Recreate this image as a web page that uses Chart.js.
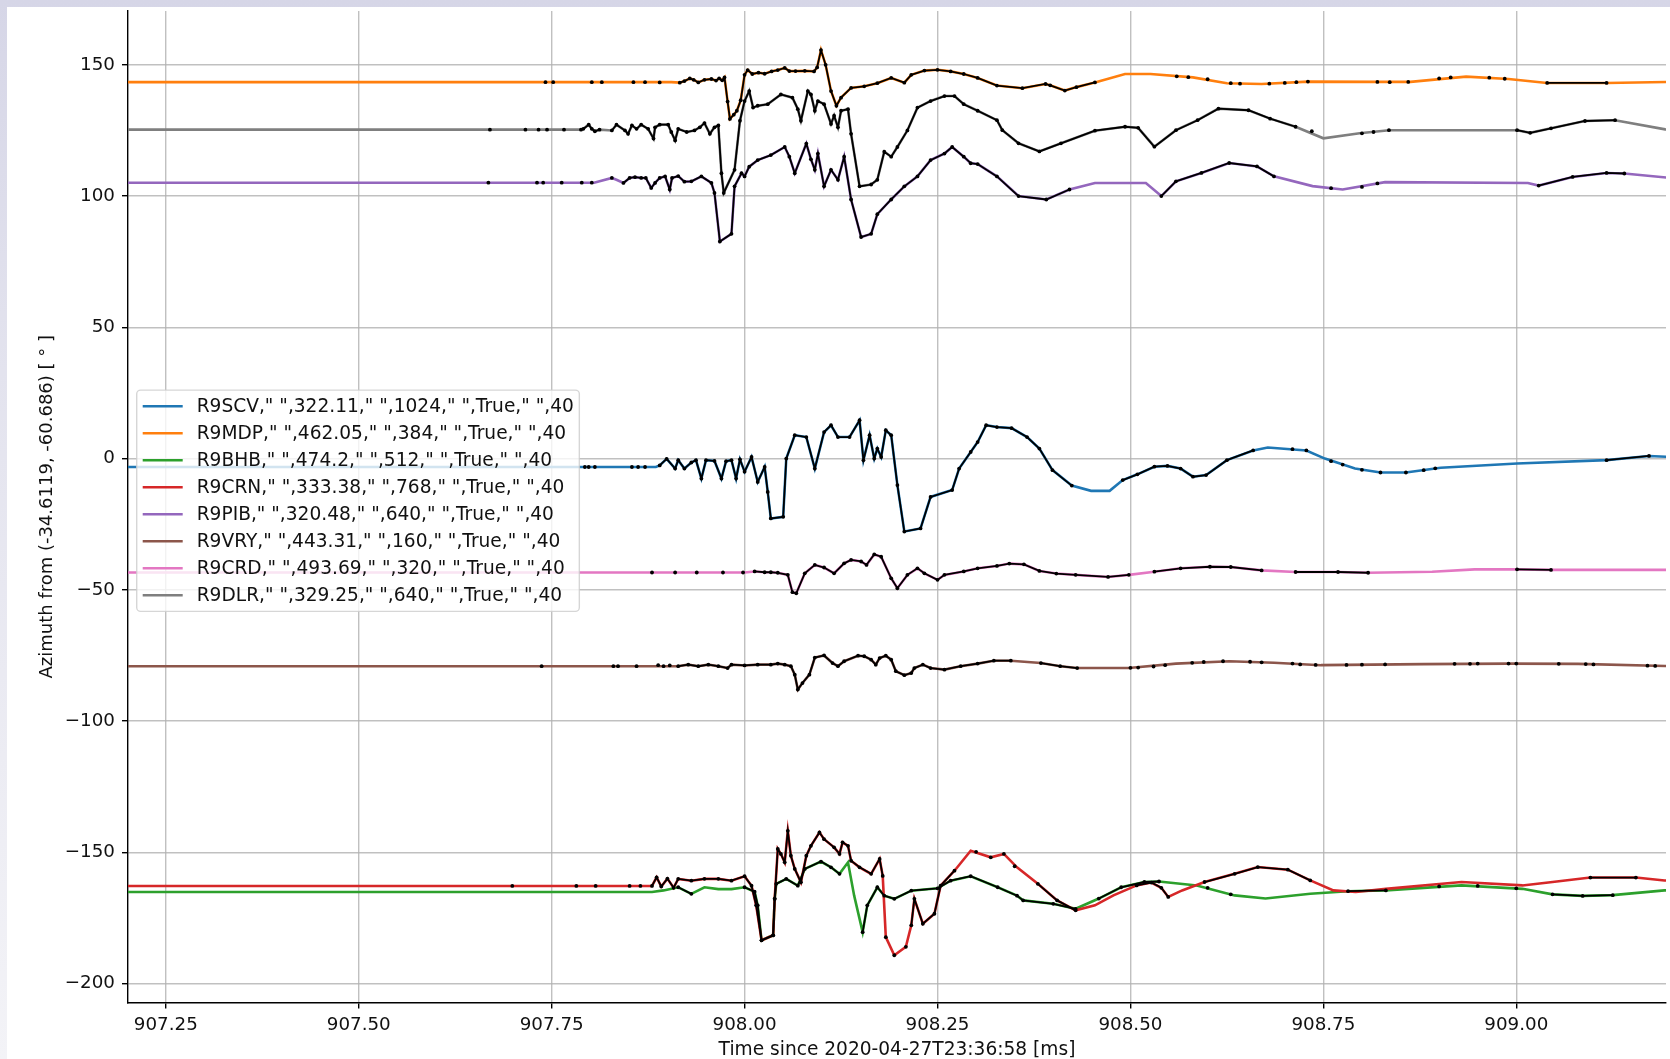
<!DOCTYPE html>
<html>
<head>
<meta charset="utf-8">
<script src="https://cdn.jsdelivr.net/npm/chart.js@4.4.0/dist/chart.umd.min.js"></script>
<style>
html, body { margin: 0; padding: 0; }
body { width: 1670px; height: 1059px; overflow: hidden; position: relative;
       background: linear-gradient(180deg, #d6d6e7 0%, #e3e3ee 35%, #f3f3f7 100%); }
#wrap { position: absolute; left: 7px; top: 7px; width: 1663px; height: 1052px; background: #fff; }
canvas { display: block; }
</style>
</head>
<body>
<div id="wrap"><canvas id="azimuthGraph" width="1663" height="1052"></canvas></div>
<script>
const xTicks = [907.25, 907.5, 907.75, 908.0, 908.25, 908.5, 908.75, 909.0];
const yTicks = [-200, -150, -100, -50, 0, 50, 100, 150];

const stationLabels = [
    'R9SCV," ",322.11," ",1024," ",True," ",40',
    'R9MDP," ",462.05," ",384," ",True," ",40',
    'R9BHB," ",474.2," ",512," ",True," ",40',
    'R9CRN," ",333.38," ",768," ",True," ",40',
    'R9PIB," ",320.48," ",640," ",True," ",40',
    'R9VRY," ",443.31," ",160," ",True," ",40',
    'R9CRD," ",493.69," ",320," ",True," ",40',
    'R9DLR," ",329.25," ",640," ",True," ",40'
];
const stationColors = ['#1f77b4', '#ff7f0e', '#2ca02c', '#d62728', '#9467bd', '#8c564b', '#e377c2', '#7f7f7f'];

// [time ms, azimuth deg]
const scvLine = [[907.15,-3.2],[907.885,-3.2],[907.890,-2.6],[907.899,-0.1],[907.910,-3.8],[907.914,-0.6],[907.922,-3.8],[907.931,-1.5],[907.937,-0.6],[907.944,-7.6],[907.950,-0.6],[907.961,-0.9],[907.970,-7.6],[907.976,-1],[907.983,-0.6],[907.989,-7.6],[907.994,-0.3],[908.0,-5],[908.009,0.6],[908.017,-8.9],[908.026,-3.2],[908.030,-12.7],[908.034,-22.8],[908.050,-22.2],[908.054,0],[908.065,8.9],[908.080,8.2],[908.091,-3.8],[908.103,10.1],[908.112,12.7],[908.121,8.2],[908.136,8.2],[908.149,14.6],[908.154,-0.6],[908.162,8.9],[908.168,0],[908.172,3.8],[908.177,0.6],[908.183,10.8],[908.190,8.9],[908.198,-10.1],[908.207,-27.8],[908.228,-26.6],[908.241,-14.6],[908.269,-12],[908.278,-3.8],[908.293,2.5],[908.302,6.3],[908.313,12.7],[908.327,12],[908.346,11.6],[908.366,8.2],[908.382,3.8],[908.399,-4.4],[908.424,-10.3],[908.449,-12.3],[908.473,-12.3],[908.490,-8.2],[908.509,-6],[908.531,-3.1],[908.548,-2.8],[908.565,-3.8],[908.581,-6.9],[908.598,-6.3],[908.625,-0.6],[908.659,3.1],[908.678,4.2],[908.728,3.1],[908.752,0],[908.791,-3.8],[908.824,-5.3],[908.857,-5.3],[908.902,-3.5],[909.001,-1.9],[909.117,-0.6],[909.172,1],[909.25,0]];
const scvRuns = [[907.888,908.43],[908.49,908.66],[909.11,909.18]];
const scvDots = [[907.793,-3.2],[907.798,-3.2],[907.806,-3.2],[907.854,-3.2],[907.862,-3.2],[907.871,-3.2],[908.71,3.6],[908.728,3.1],[908.76,-1],[908.775,-2.3],[908.80,-4.3],[908.824,-5.3],[908.857,-5.3],[908.88,-4.4],[908.895,-3.7]];

const mdpLine = [[907.15,143.4],[907.905,143.4],[907.916,143.2],[907.922,143.8],[907.929,144.8],[907.934,144.3],[907.940,143.3],[907.948,144.3],[907.957,144.6],[907.963,144.0],[907.967,144.8],[907.971,144.1],[907.974,145.2],[907.978,136],[907.981,129.4],[907.986,131],[907.990,132.5],[907.995,136.5],[908.0,146.2],[908.004,148],[908.010,146.5],[908.018,147.0],[908.026,146.6],[908.035,147.5],[908.043,148.0],[908.052,148.8],[908.058,147.6],[908.066,147.6],[908.078,147.7],[908.090,147.5],[908.094,149],[908.099,155.6],[908.105,150],[908.112,140],[908.119,134.4],[908.125,137.5],[908.138,141.2],[908.155,141.8],[908.172,143],[908.190,145],[908.207,143.2],[908.216,146.2],[908.233,147.8],[908.250,148.1],[908.267,147.5],[908.284,146.5],[908.302,145],[908.327,142.1],[908.360,141.1],[908.390,142.7],[908.396,142.2],[908.415,140.2],[908.430,141.5],[908.454,143.3],[908.493,146.5],[908.526,146.5],[908.581,145.2],[908.625,143],[908.670,142.7],[908.730,143.6],[908.824,143.5],[908.863,143.5],[908.935,145.5],[908.990,144.6],[909.040,143.1],[909.117,143.1],[909.25,143.7]];
const mdpRuns = [[907.914,908.47],[909.03,909.12]];
const mdpDots = [[907.742,143.4],[907.752,143.4],[907.802,143.4],[907.815,143.4],[907.856,143.4],[907.871,143.4],[907.890,143.3],[908.560,145.6],[908.575,145.3],[908.600,144.5],[908.630,143],[908.642,142.8],[908.680,142.8],[908.700,143.1],[908.715,143.4],[908.730,143.6],[908.820,143.5],[908.836,143.4],[908.860,143.5],[908.900,144.8],[908.915,145.2],[908.965,145.1],[908.985,144.7]];

const bhbLine = [[907.15,-165.1],[907.88,-165.1],[907.895,-164.5],[907.914,-163.3],[907.931,-165.8],[907.948,-163.3],[907.966,-164],[907.983,-164],[908.0,-163.3],[908.013,-165],[908.017,-170.2],[908.022,-183.5],[908.037,-181.6],[908.039,-167.7],[908.041,-162],[908.054,-160.1],[908.069,-162.7],[908.078,-156.3],[908.099,-153.5],[908.112,-155.7],[908.123,-158.2],[908.134,-153.8],[908.142,-166.5],[908.153,-180.4],[908.159,-170.2],[908.172,-163.3],[908.181,-166.5],[908.194,-167.7],[908.216,-164.6],[908.250,-163.7],[908.267,-160.8],[908.293,-159.1],[908.328,-163.3],[908.353,-166.5],[908.361,-168.3],[908.40,-169.6],[908.429,-171.5],[908.459,-167.6],[908.488,-163.3],[908.518,-161.3],[908.537,-161.1],[908.586,-162.6],[908.635,-166.4],[908.675,-167.6],[908.733,-165.8],[908.782,-164.8],[908.831,-164.5],[908.929,-162.6],[909.008,-163.9],[909.047,-166],[909.086,-166.6],[909.125,-166.3],[909.192,-164.5],[909.25,-164]];
const bhbRuns = [[907.90,907.935],[907.99,908.13],[908.15,908.43],[908.45,908.55],[908.75,908.85],[909.04,909.13]];
const bhbDots = [[908.60,-163.5],[908.63,-166],[908.90,-163],[908.95,-162.8],[909.0,-163.7]];

const crnLine = [[907.15,-162.8],[907.88,-162.8],[907.886,-159.5],[907.892,-163],[907.90,-160],[907.908,-163.5],[907.914,-160.1],[907.931,-160.8],[907.948,-160.1],[907.966,-160.1],[907.983,-160.8],[908.0,-159.1],[908.009,-162.7],[908.015,-170.2],[908.022,-183.5],[908.037,-181.6],[908.039,-167.7],[908.043,-148.7],[908.047,-150.6],[908.052,-153.8],[908.056,-141.8],[908.060,-151.3],[908.065,-156.3],[908.073,-161.4],[908.080,-151.3],[908.086,-147.5],[908.097,-142.4],[908.103,-145],[908.116,-148.1],[908.123,-150.6],[908.127,-146.2],[908.134,-147.5],[908.138,-153.2],[908.149,-155.7],[908.164,-158.2],[908.175,-152.5],[908.179,-159],[908.183,-182.3],[908.194,-189.2],[908.209,-186],[908.216,-177.8],[908.220,-167.7],[908.231,-177.2],[908.246,-173.4],[908.254,-162.7],[908.272,-157],[908.293,-149.4],[908.319,-151.9],[908.336,-150.6],[908.353,-155.7],[908.380,-162],[908.405,-168.3],[908.429,-172.1],[908.454,-170.2],[908.478,-166.4],[908.508,-162.6],[908.527,-161.5],[908.540,-163.5],[908.549,-167],[908.567,-164.5],[908.596,-161.3],[908.635,-158.2],[908.665,-155.6],[908.704,-156.6],[908.733,-160.7],[908.763,-164.5],[908.792,-165.1],[908.831,-163.9],[908.929,-161.3],[909.008,-162.6],[909.047,-161.3],[909.096,-159.6],[909.155,-159.6],[909.192,-160.7],[909.25,-161]];
const crnRuns = [[907.88,908.18],[908.21,908.29],[908.36,908.45],[908.50,908.56],[908.59,908.74],[909.09,909.17]];
const crnDots = [[907.699,-162.8],[907.782,-162.8],[907.807,-162.8],[907.851,-162.8],[907.865,-162.8],[908.183,-182.3],[908.194,-189.2],[908.209,-186],[908.30,-149.8],[908.319,-151.9],[908.336,-150.6],[908.35,-155.3]];

const pibLine = [[907.15,105.1],[907.805,105.1],[907.828,106.9],[907.834,106.2],[907.843,105],[907.851,106.9],[907.858,107.2],[907.866,106.9],[907.872,106.9],[907.879,103.1],[907.884,105],[907.890,106.9],[907.897,107.5],[907.903,102.5],[907.906,106.9],[907.914,107.6],[907.922,105.5],[907.931,105.6],[907.944,107.5],[907.957,105],[907.961,101.2],[907.968,82.7],[907.983,85.6],[907.987,103.7],[907.996,108.7],[908.0,107.5],[908.006,111.2],[908.017,113.7],[908.034,115.6],[908.052,118.7],[908.058,115],[908.065,108.7],[908.080,120],[908.086,114],[908.091,110],[908.095,116.2],[908.103,103.7],[908.112,110],[908.121,106.2],[908.129,115],[908.138,98.7],[908.151,84.4],[908.164,85.6],[908.172,93.1],[908.190,98.7],[908.207,103.7],[908.224,107.5],[908.241,113.7],[908.259,116.2],[908.269,118.7],[908.284,115],[908.293,112.5],[908.302,112.2],[908.327,107.5],[908.355,100],[908.391,98.7],[908.421,102.5],[908.454,105],[908.520,105],[908.540,100],[908.559,105.6],[908.592,108.8],[908.628,112.6],[908.664,111.3],[908.686,107.5],[908.736,103.8],[908.775,102.5],[908.830,105.3],[909.015,105],[909.029,104],[909.073,107.3],[909.117,108.8],[909.140,108.6],[909.25,105.5]];
const pibRuns = [[907.84,908.45],[908.53,908.73],[909.02,909.17]];
const pibDots = [[907.668,105.1],[907.731,105.1],[907.739,105.1],[907.763,105.1],[907.789,105.1],[907.802,105.1],[907.828,106.9],[908.76,103],[908.80,103.5],[908.82,104.8]];

const vryLine = [[907.15,-79.1],[907.914,-79.1],[907.927,-78.5],[907.940,-79.1],[907.953,-78.5],[907.966,-79.1],[907.978,-79.8],[907.983,-78.5],[908.0,-78.8],[908.017,-78.5],[908.034,-78.5],[908.043,-78.1],[908.052,-78.5],[908.060,-79.1],[908.065,-82.3],[908.069,-88],[908.075,-85.5],[908.084,-82.3],[908.091,-75.8],[908.103,-75],[908.114,-77.9],[908.121,-79.1],[908.129,-77.2],[908.147,-75.1],[908.155,-75.3],[908.164,-76.6],[908.170,-78.5],[908.175,-76],[908.183,-75.1],[908.190,-76.6],[908.196,-81],[908.207,-82.5],[908.216,-81.7],[908.220,-79.8],[908.231,-78.5],[908.241,-79.8],[908.259,-80.4],[908.280,-79.1],[908.302,-78.1],[908.323,-77],[908.345,-77],[908.384,-77.9],[908.409,-79.1],[908.431,-79.8],[908.498,-79.8],[908.559,-78.1],[908.628,-77.2],[908.686,-77.8],[908.747,-78.7],[908.880,-78.3],[908.990,-78.1],[909.08,-78.2],[909.193,-79],[909.25,-79]];
const vryRuns = [[907.914,908.37],[908.38,908.44]];
const vryDots = [[907.737,-79.1],[907.830,-79.1],[907.836,-79.1],[907.860,-79.1],[907.888,-78.7],[907.895,-79.1],[907.903,-78.8],[908.50,-79.7],[908.51,-79.6],[908.53,-79.2],[908.545,-78.7],[908.58,-77.8],[908.595,-77.5],[908.62,-77.2],[908.655,-77.4],[908.67,-77.6],[908.71,-78.1],[908.72,-78.4],[908.74,-78.6],[908.78,-78.6],[908.80,-78.5],[908.83,-78.4],[908.92,-78.2],[908.94,-78.2],[908.95,-78.1],[908.99,-78.1],[909.0,-78.1],[909.055,-78.2],[909.09,-78.3],[909.1,-78.4],[909.17,-78.9],[909.18,-79]];

const crdLine = [[907.15,-43.4],[908.0,-43.4],[908.013,-43],[908.026,-43.3],[908.034,-43.3],[908.043,-43.5],[908.056,-44.3],[908.062,-50.9],[908.067,-51.3],[908.078,-43.7],[908.091,-40.5],[908.103,-41.5],[908.116,-43.7],[908.129,-39.9],[908.138,-38.6],[908.151,-39.2],[908.158,-40.5],[908.168,-36.5],[908.177,-37.4],[908.190,-45.6],[908.198,-49.4],[908.211,-44.3],[908.224,-41.8],[908.233,-43.7],[908.250,-46.2],[908.259,-44.3],[908.284,-43],[908.302,-41.8],[908.327,-40.9],[908.343,-40],[908.362,-40.3],[908.382,-42.8],[908.404,-43.8],[908.429,-44.3],[908.471,-45.1],[908.498,-44.3],[908.531,-43.1],[908.565,-41.8],[908.603,-41.2],[908.630,-41.3],[908.670,-42.6],[908.714,-43.2],[908.769,-43.2],[908.808,-43.5],[908.891,-43.1],[908.946,-42.2],[909.001,-42.2],[909.045,-42.4],[909.25,-42.4]];
const crdRuns = [[908.005,908.50],[908.53,908.67],[908.70,908.89],[908.95,909.05]];
const crdDots = [[907.880,-43.4],[907.910,-43.4],[907.938,-43.4],[907.972,-43.4],[907.998,-43.4]];

const dlrLine = [[907.15,125.3],[907.788,125.3],[907.791,125.6],[907.798,127.2],[907.802,125.6],[907.806,124.7],[907.812,125.3],[907.828,125],[907.834,127.2],[907.845,125],[907.849,123.7],[907.854,126.9],[907.860,125.6],[907.866,127.2],[907.875,125.6],[907.882,121.9],[907.884,126.2],[907.890,127.2],[907.901,127.2],[907.905,124.4],[907.910,121.2],[907.914,125.6],[907.925,124.4],[907.935,125],[907.942,126.2],[907.948,127.8],[907.955,123.7],[907.961,126.2],[907.966,126.9],[907.970,108.7],[907.973,101.2],[907.987,110],[907.994,128.7],[908.0,136.2],[908.006,140],[908.011,133.7],[908.017,134.4],[908.030,135],[908.047,138.7],[908.062,137.5],[908.069,133.1],[908.073,128.7],[908.082,140],[908.086,138.7],[908.091,132.5],[908.095,136.2],[908.103,135],[908.112,127.5],[908.116,130.6],[908.121,126.2],[908.125,132.5],[908.134,133.1],[908.138,123.7],[908.149,103.7],[908.164,104.4],[908.172,106.2],[908.181,116.9],[908.190,115],[908.198,118.7],[908.211,125],[908.224,133.7],[908.241,136.2],[908.259,138.1],[908.272,138.1],[908.284,135],[908.302,132.5],[908.327,128.9],[908.334,125.1],[908.355,120.1],[908.382,117],[908.410,120.1],[908.454,124.9],[908.493,126.4],[908.510,126],[908.531,118.8],[908.559,125.1],[908.587,128.9],[908.614,133.3],[908.653,132.7],[908.681,129.5],[908.714,126.4],[908.750,122],[908.797,123.9],[908.835,125.1],[909.001,125.1],[909.018,124.1],[909.045,125.8],[909.089,128.6],[909.128,128.9],[909.193,125.4],[909.25,124.5]];
const dlrRuns = [[907.788,907.813],[907.826,908.72],[909.0,909.17]];
const dlrDots = [[907.670,125.3],[907.716,125.3],[907.733,125.3],[907.744,125.3],[907.766,125.3],[908.735,124.7],[908.80,123.9],[908.815,124.4],[908.835,125.1]];

const stations = [
    {line: scvLine, runs: scvRuns, dots: scvDots},
    {line: mdpLine, runs: mdpRuns, dots: mdpDots},
    {line: bhbLine, runs: bhbRuns, dots: bhbDots},
    {line: crnLine, runs: crnRuns, dots: crnDots},
    {line: pibLine, runs: pibRuns, dots: pibDots},
    {line: vryLine, runs: vryRuns, dots: vryDots},
    {line: crdLine, runs: crdRuns, dots: crdDots},
    {line: dlrLine, runs: dlrRuns, dots: dlrDots}
];

const FONT = "'DejaVu Sans', sans-serif";
const FS = 18.3;

//black trace: stretches of the station line plus single samples, broken by nulls
function blackData(line, runs, dots) {
    let groups = [];
    runs.forEach(r => groups.push(line.filter(p => p[0] >= r[0] && p[0] <= r[1])));
    dots.forEach(d => groups.push([d]));
    groups = groups.filter(g => g.length).sort((a, b) => a[0][0] - b[0][0]);
    let out = [];
    groups.forEach(g => {
        g.forEach(p => out.push({x: p[0], y: p[1]}));
        out.push({x: g[g.length - 1][0], y: null});
    });
    return out;
}

let datasets = [];
stations.forEach((s, i) => {
    datasets.push({
        label: stationLabels[i],
        data: s.line.map(p => ({x: p[0], y: p[1]})),
        borderColor: stationColors[i],
        borderWidth: 2.6,
        pointRadius: 0,
        clip: 0,
        order: 20 - i
    });
});
stations.forEach((s, i) => {
    datasets.push({
        label: '_trace' + i,
        data: blackData(s.line, s.runs, s.dots),
        borderColor: '#000',
        borderWidth: 1.8,
        pointRadius: 1.9,
        pointBackgroundColor: '#000',
        pointBorderWidth: 0,
        clip: 0,
        order: 1
    });
});

// matplotlib-like legend box, centre left inside the axes
const legendBox = {
    id: 'legendBox',
    afterDatasetsDraw(chart) {
        const ctx = chart.ctx;
        const area = chart.chartArea;
        const lfs = 18.6;
        const pad = 7.3, pitch = 27.0, textH = 17.7;
        ctx.save();
        ctx.font = lfs + 'px ' + FONT;
        let maxW = 0;
        stationLabels.forEach(l => { maxW = Math.max(maxW, ctx.measureText(l).width); });
        const boxW = 60 + maxW + 5.5;
        const boxH = 2 * pad + 7 * pitch + textH;
        const left = area.left + 8.7;
        const top = (area.top + area.bottom) / 2 - boxH / 2 - 6;
        ctx.beginPath();
        ctx.roundRect(left, top, boxW, boxH, 4);
        ctx.fillStyle = 'rgba(255,255,255,0.8)';
        ctx.fill();
        ctx.lineWidth = 1.4;
        ctx.strokeStyle = 'rgba(204,204,204,0.8)';
        ctx.stroke();
        ctx.textBaseline = 'middle';
        ctx.textAlign = 'left';
        stationLabels.forEach((l, i) => {
            const y = top + pad + textH / 2 + i * pitch;
            ctx.beginPath();
            ctx.moveTo(left + 6, y);
            ctx.lineTo(left + 46, y);
            ctx.strokeStyle = stationColors[i];
            ctx.lineWidth = 2.6;
            ctx.stroke();
            ctx.fillStyle = '#111';
            ctx.fillText(l, left + 60, y + 0.5);
        });
        ctx.restore();
    }
};

Chart.defaults.font.family = FONT;
Chart.defaults.font.size = FS;
Chart.defaults.color = '#111';

const azimuthGraph = new Chart(document.getElementById('azimuthGraph').getContext('2d'), {
    type: 'line',
    data: { datasets: datasets },
    options: {
        responsive: false,
        animation: false,
        events: [],
        layout: { padding: 0 },
        elements: { line: { tension: 0 } },
        plugins: { legend: { display: false }, tooltip: { enabled: false } },
        scales: {
            x: {
                type: 'linear',
                min: 907.201,
                max: 909.194,
                afterBuildTicks: scale => { scale.ticks = xTicks.map(v => ({value: v})); },
                afterFit: scale => { scale.height = 56.5; scale.paddingLeft = 0; scale.paddingRight = 0; },
                ticks: { padding: 6, maxRotation: 0, autoSkip: false, callback: v => v.toFixed(2) },
                grid: { color: 'rgba(176,176,176,0.8)', lineWidth: 1.4, tickLength: 6, tickColor: '#000', tickWidth: 1.4 },
                border: { color: '#000', width: 1.4 },
                title: { display: true, text: 'Time since 2020-04-27T23:36:58 [ms]', font: { size: 18.6 }, padding: {top: 0, bottom: -2} }
            },
            y: {
                type: 'linear',
                min: -207.2,
                max: 170.5,
                afterBuildTicks: scale => { scale.ticks = yTicks.map(v => ({value: v})); },
                afterFit: scale => { scale.width = 121; scale.paddingTop = 0; scale.paddingBottom = 0; },
                ticks: { padding: 7, autoSkip: false, callback: v => String(v).replace('-', '\u2212') },
                grid: { color: 'rgba(176,176,176,0.8)', lineWidth: 1.4, tickLength: 6, tickColor: '#000', tickWidth: 1.4 },
                border: { color: '#000', width: 1.4 },
                title: { display: true, text: 'Azimuth from (-34.6119, -60.686) [ \u00b0 ]', font: { size: 18 }, padding: {top: 30, bottom: 0} }
            }
        }
    },
    plugins: [legendBox]
});
</script>
</body>
</html>
